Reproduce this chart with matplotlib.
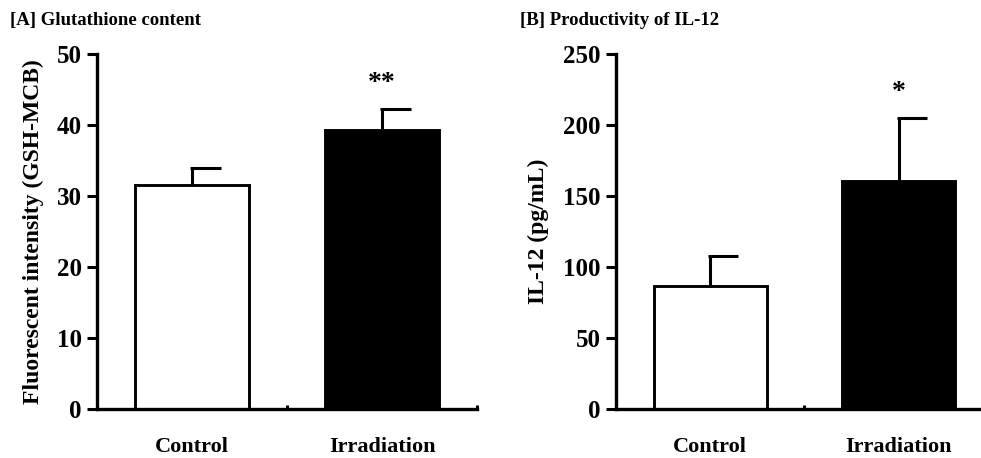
import numpy as np
import matplotlib
matplotlib.use("Agg")
import matplotlib.pyplot as plt

plt.rcParams['font.family'] = ['Liberation Serif', 'DejaVu Serif']
plt.rcParams['font.weight'] = 'bold'

# data
groups = ['Control', 'Irradiation']
gsh_mean = [31.5, 39.3]
gsh_err = [2.4, 3.0]
il12_mean = [86.6, 160.6]
il12_err = [21.0, 44.5]
stars_a = ['', '**']
stars_b = ['', '*']
colors = ['white', 'black']

fig = plt.figure(figsize=(9.81, 4.58), dpi=100)
axA = fig.add_axes([0.0989, 0.107, 0.3874, 0.775])
axB = fig.add_axes([0.628, 0.107, 0.384, 0.775])


def panel(ax, means, errs, stars, ymax, ystep, ylabel, title, title_x, ylab_x):
    x = np.arange(len(groups))
    ax.bar(x, means, width=0.6, color=colors, edgecolor='black', linewidth=2.1, zorder=2)
    tops = np.array(means) + np.array(errs)
    ax.vlines(x, means, tops, color='black', linewidth=2.2, zorder=1)
    ax.hlines(tops, x - 0.01, x + 0.15, color='black', linewidth=2.2, zorder=1)
    for xi, t, s in zip(x, tops, stars):
        if s:
            ax.text(xi, t + ymax * 0.035, s, ha='center', va='bottom', fontsize=20, fontweight='bold')
    ax.set_xlim(-0.5, 1.5)
    ax.set_ylim(0, ymax)
    ax.set_yticks(np.arange(0, ymax + 1, ystep))
    ax.set_xticks(x)
    ax.set_xticklabels(groups, fontsize=16, fontweight='bold')
    ax.set_xticks([0.5, 1.5], minor=True)
    ax.tick_params(axis='x', which='major', length=0, pad=20)
    ax.tick_params(axis='x', which='minor', direction='in', length=3, width=2.2)
    ax.tick_params(axis='y', direction='out', length=7, width=2.2, labelsize=18, pad=4)
    for lbl in ax.get_yticklabels():
        lbl.set_fontweight('bold')
    for side in ['top', 'right']:
        ax.spines[side].set_visible(False)
    for side in ['left', 'bottom']:
        ax.spines[side].set_linewidth(2.4)
    ax.set_ylabel(ylabel, fontsize=17, fontweight='bold')
    ax.yaxis.set_label_coords(ylab_x, 0.5)
    fig.text(title_x, 0.955, title, fontsize=13.5, fontweight='bold', ha='left', va='center')


panel(axA, gsh_mean, gsh_err, stars_a, 50, 10,
      'Fluorescent intensity (GSH-MCB)', '[A] Glutathione content', 0.010, -0.14)
panel(axB, il12_mean, il12_err, stars_b, 250, 50,
      'IL-12 (pg/mL)', '[B] Productivity of IL-12', 0.530, -0.178)

fig.savefig('out.png', dpi=100)
